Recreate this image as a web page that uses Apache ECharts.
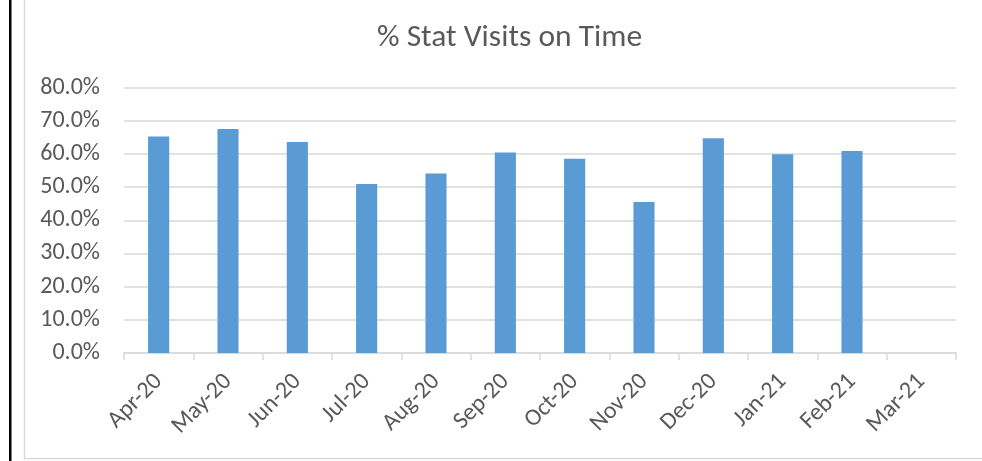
<!DOCTYPE html>
<html><head><meta charset="utf-8">
<script src="https://cdn.jsdelivr.net/npm/echarts@6/dist/echarts.min.js"></script>
<style>html,body{margin:0;padding:0;background:#fff}#c{width:982px;height:461px}</style>
</head><body><div id="c"></div>
<script>
const categories = ['Apr-20','May-20','Jun-20','Jul-20','Aug-20','Sep-20','Oct-20','Nov-20','Dec-20','Jan-21','Feb-21','Mar-21'];
const onTimePct = [65.2, 67.5, 63.6, 50.9, 54.1, 60.4, 58.5, 45.5, 64.7, 59.9, 60.9, null];
const yTicks = {min: 0, max: 80, interval: 10};
const titleText = '% Stat Visits on Time';

const chart = echarts.init(document.getElementById('c'), null, {renderer: 'canvas'});
const font = 'Calibri, Carlito, "Open Sans", "Liberation Sans", sans-serif';
chart.setOption({
  animation: false,
  backgroundColor: '#fff',
  title: {text: titleText, left: 372, top: 17,
    textStyle: {fontFamily: font, fontSize: 31.5, fontWeight: 'normal', color: '#595959'}},
  grid: {left: 124, right: 26, top: 87.5, bottom: 108},
  xAxis: {type: 'category', data: categories,
    axisLine: {lineStyle: {color: '#d9d9d9', width: 1.5}},
    axisTick: {show: true, alignWithLabel: false, length: 7, lineStyle: {color: '#d9d9d9', width: 1.5}},
    axisLabel: {rotate: 45, interval: 0, margin: 25, fontFamily: font, fontSize: 24, color: '#595959'}},
  yAxis: {type: 'value', min: yTicks.min, max: yTicks.max, interval: yTicks.interval,
    axisLine: {show: false}, axisTick: {show: false},
    splitLine: {lineStyle: {color: '#d9d9d9', width: 1.5}},
    axisLabel: {margin: 24, fontFamily: font, fontSize: 24, color: '#595959',
      formatter: v => v.toFixed(1) + '%'}},
  series: [{type: 'bar', data: onTimePct, barWidth: '30.5%',
    itemStyle: {color: '#5b9bd5'}}],
  graphic: [
    {type: 'rect', shape: {x: 9, y: -2, width: 2.5, height: 470}, style: {fill: '#000'}, z: 100},
    {type: 'rect', shape: {x: 24.5, y: -5, width: 970, height: 463.5}, style: {fill: 'none', stroke: '#d9d9d9', lineWidth: 1.5}, z: 100}
  ]
});
</script></body></html>
